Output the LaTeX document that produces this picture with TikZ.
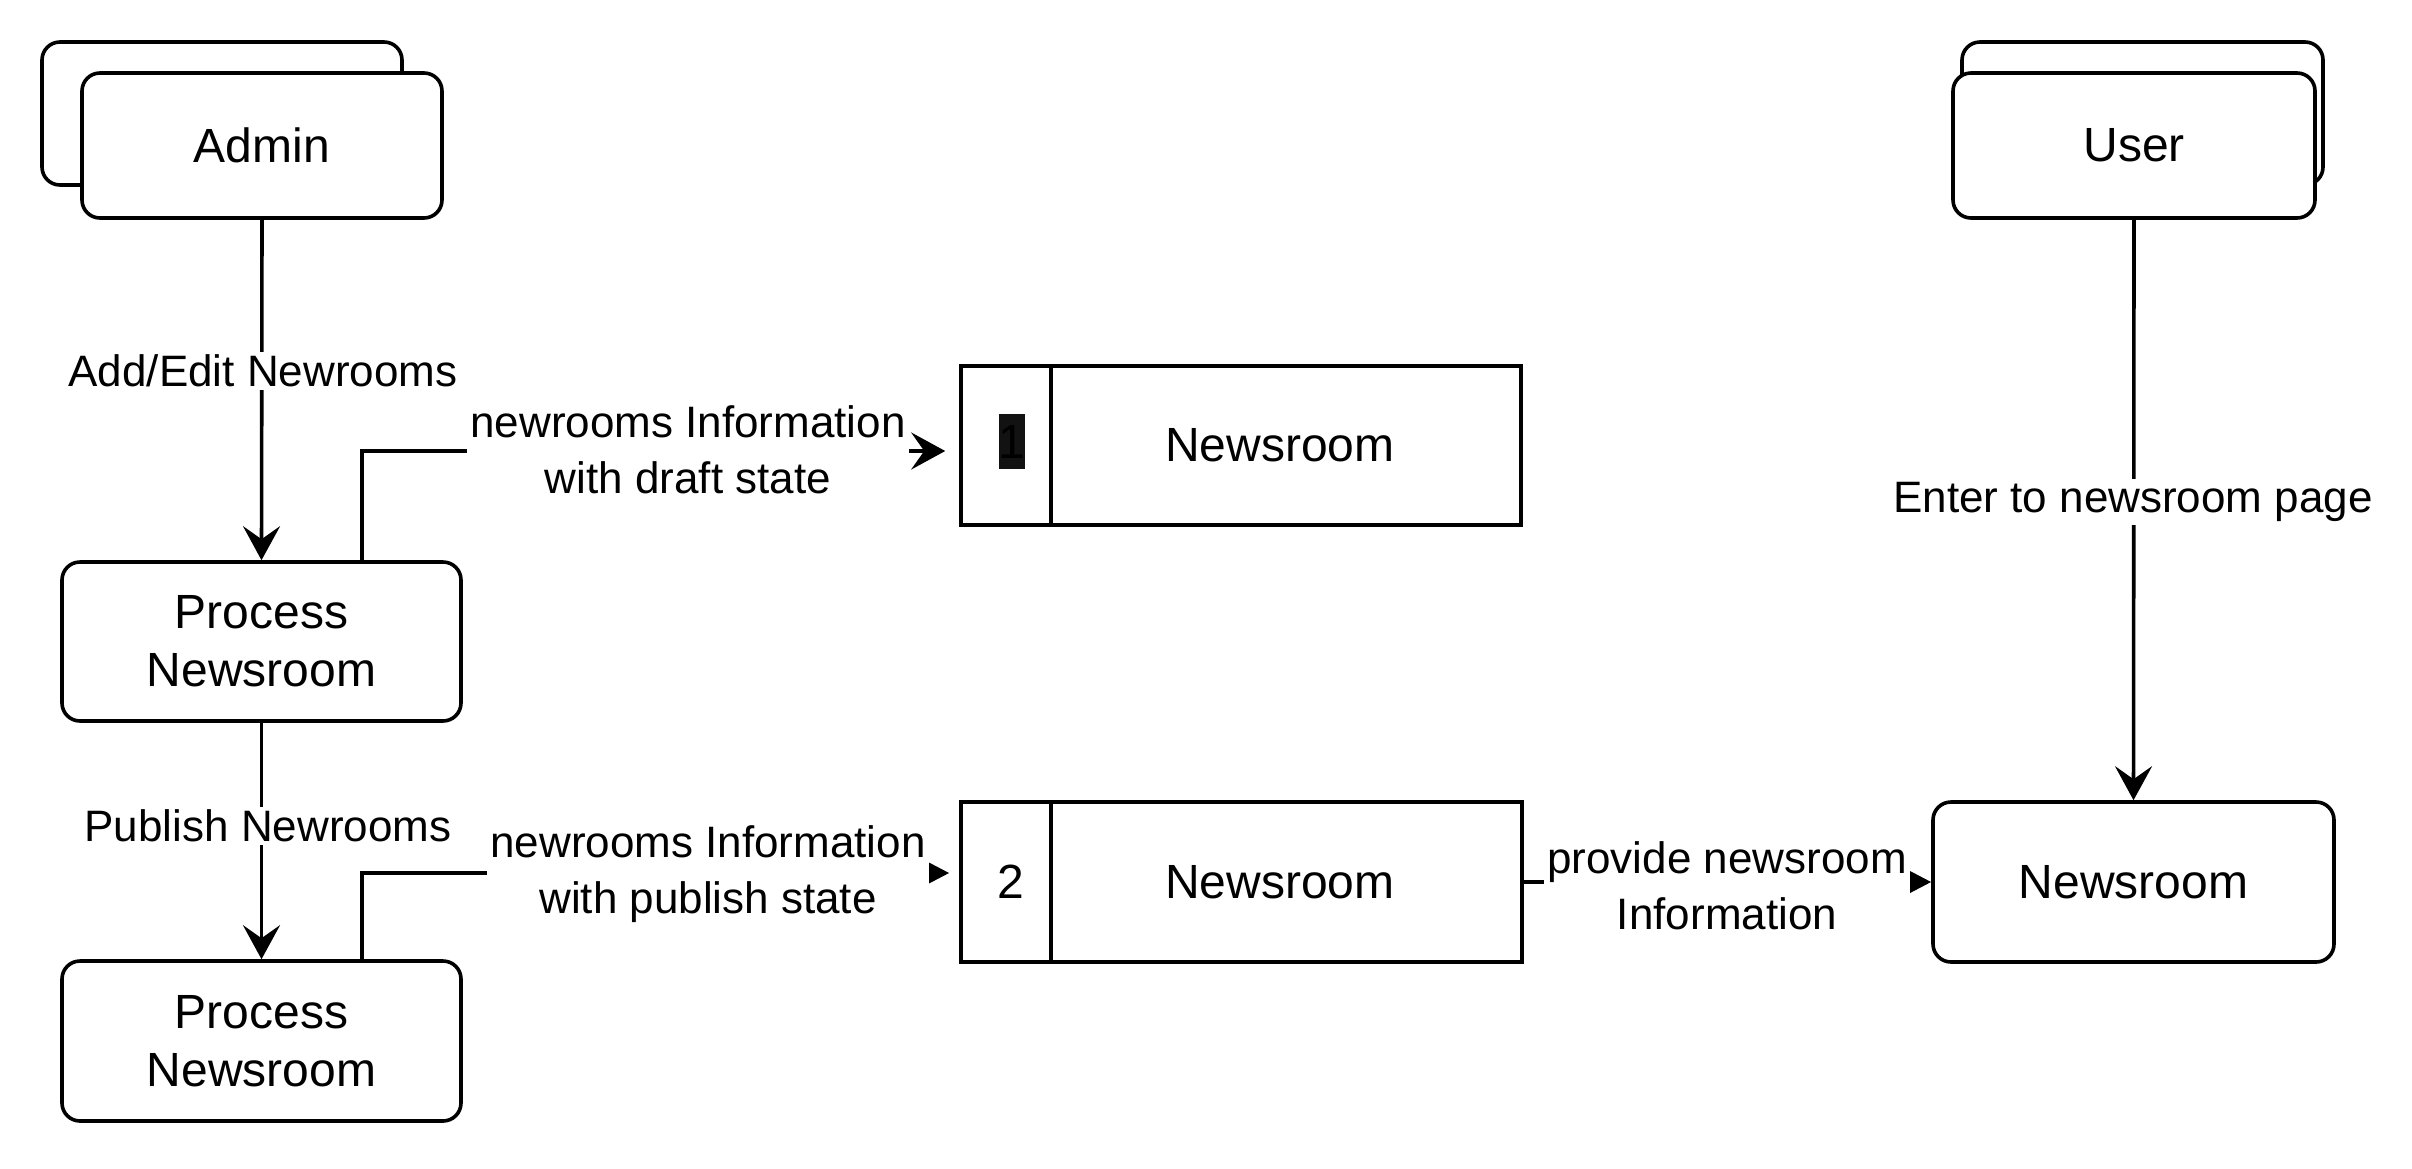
\documentclass[tikz,border=0pt]{standalone}
\usepackage{fontspec}
\setmainfont{Liberation Sans}
\usetikzlibrary{arrows.meta}
\newcommand\NodeFnt{\fontsize{48pt}{58pt}\selectfont}
\newcommand\LblFnt{\fontsize{44pt}{56pt}\selectfont}
\tikzset{
  box/.style={draw, line width=3.6pt, fill=white, inner sep=0pt, align=center, font=\NodeFnt},
  rbox/.style={box, rounded corners=18pt},
  txt/.style={inner sep=0pt, align=center, font=\NodeFnt},
  hl/.style={fill=black!93, text=black, inner sep=0pt, minimum width=20pt, minimum height=55pt, font=\NodeFnt},
  lbl/.style={fill=white, inner sep=3pt, align=center, font=\LblFnt},
  conn/.style={line width=3.6pt},
  cls/.style={-{Stealth[length=34pt,width=37pt,inset=13pt]}},
  blk/.style={-{Triangle[length=25pt,width=25pt]}},
}
\begin{document}
\begin{tikzpicture}[x=1pt,y=-1pt]
\useasboundingbox (0,0) rectangle (2412,1168);
\fill[white] (0,0) rectangle (2412,1168);

% external entities
\node[rbox, minimum width=360pt, minimum height=143pt] (adminback) at (222,113.5) {};
\node[rbox, minimum width=360pt, minimum height=145pt] (admin) at (262,145.5) {Admin};
\node[rbox, minimum width=361pt, minimum height=143pt] (userback) at (2142.5,113.5) {};
\node[rbox, minimum width=362pt, minimum height=145pt] (user) at (2134,145.5) {User};

% processes
\node[rbox, minimum width=399pt, minimum height=159pt] (p1) at (261.5,641.5) {Process\\Newsroom};
\node[rbox, minimum width=399pt, minimum height=160pt] (p2) at (261.5,1041) {Process\\Newsroom};
\node[rbox, minimum width=401pt, minimum height=160pt] (n3) at (2133.5,882) {Newsroom};

% data stores
\node[box, minimum width=560pt, minimum height=159pt] (st1) at (1241,445.5) {};
\draw[conn] ([xshift=92pt]st1.north west) -- ([xshift=92pt]st1.south west);
\node[hl] (st1id) at (1012,441.5) {1};
\node[txt] (st1name) at (1280,445.5) {Newsroom};

\node[box, minimum width=561pt, minimum height=160pt] (st2) at (1241.5,882) {};
\draw[conn] ([xshift=92pt]st2.north west) -- ([xshift=92pt]st2.south west);
\node[txt] (st2id) at (1011,882) {2};
\node[txt] (st2name) at (1280,882) {Newsroom};

% connectors
\draw[conn, cls] (admin.south) -- (p1.north);
\draw[conn, cls] (p1.south) -- (p2.north);
\draw[conn, cls] ([xshift=100.5pt]p1.north) |- ([xshift=-14pt,yshift=-5.5pt]st1.west);
\draw[conn, blk] ([xshift=100.5pt]p2.north) |- ([xshift=-10pt,yshift=9pt]st2.west);
\draw[conn, blk] (st2.east) -- (n3.west);
\draw[conn, cls] (user.south) -- (n3.north);

% labels
\node[lbl] (l1) at (263,371) {Add/Edit Newrooms};
\node[lbl] (l2) at (268,826) {Publish Newrooms};
\node[lbl] (l3) at (688,450) {newrooms Information\\with draft state};
\node[lbl] (l4) at (708,874) {newrooms Information\\with publish state};
\node[lbl] (l5) at (1727,886) {provide newsroom\\Information};
\node[lbl] (l6) at (2133,502) {Enter to newsroom page};
\end{tikzpicture}
\end{document}
